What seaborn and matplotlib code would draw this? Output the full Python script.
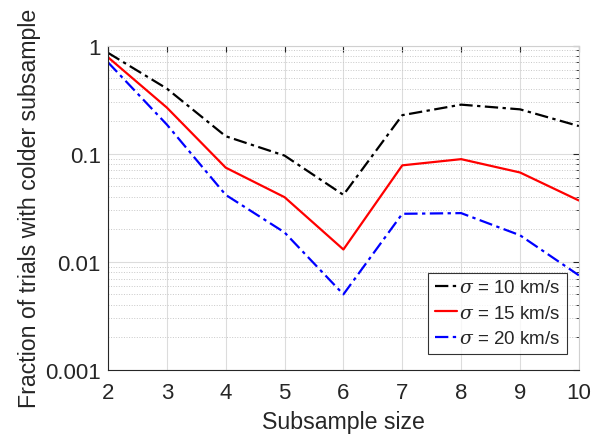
import numpy as np
import pandas as pd
import seaborn as sns
import matplotlib.pyplot as plt
from matplotlib.ticker import FixedLocator, FixedFormatter, LogLocator, NullFormatter

# Data
subsample_size = [2, 3, 4, 5, 6, 7, 8, 9, 10]
frac_sigma10 = [0.857, 0.40, 0.145, 0.096, 0.0416, 0.227, 0.284, 0.257, 0.18]
frac_sigma15 = [0.78, 0.267, 0.0743, 0.0396, 0.013, 0.078, 0.089, 0.067, 0.0369]
frac_sigma20 = [0.70, 0.186, 0.0416, 0.0187, 0.005, 0.0278, 0.0282, 0.0176, 0.0075]
labels = [r'$\sigma$ = 10 km/s', r'$\sigma$ = 15 km/s', r'$\sigma$ = 20 km/s']
colors = ['black', 'red', 'blue']
styles = [(0, (6, 2, 1.5, 2)), '-', (0, (6, 2, 1.5, 2))]

sns.set_style('white')
plt.rcParams['font.family'] = ['Liberation Sans', 'DejaVu Sans']
plt.rcParams['mathtext.fontset'] = 'dejavuserif'

fig = plt.figure(figsize=(6.03, 4.39), dpi=100)
ax = fig.add_axes([0.179, 0.155, 0.781, 0.739])

for vals, lab, c, ls in zip([frac_sigma10, frac_sigma15, frac_sigma20], labels, colors, styles):
    df = pd.DataFrame({'size': subsample_size, 'frac': vals})
    sns.lineplot(data=df, x='size', y='frac', ax=ax, color=c, linestyle=ls,
                 linewidth=1.6, label=lab)

ax.set_yscale('log')
ax.set_xlim(2, 10)
ax.set_ylim(0.001, 1)
ax.set_xticks(subsample_size)
ax.yaxis.set_major_locator(FixedLocator([0.001, 0.01, 0.1, 1]))
ax.yaxis.set_major_formatter(FixedFormatter(['0.001', '0.01', '0.1', '1']))
ax.yaxis.set_minor_locator(LogLocator(base=10, subs=np.arange(2, 10)))
ax.yaxis.set_minor_formatter(NullFormatter())

ax.grid(True, which='major', color='#dcdcdc', linewidth=0.8, linestyle='-')
ax.grid(True, which='minor', axis='y', color='#c8c8c8', linewidth=0.7, linestyle=':')

gray = '#262626'
for s in ax.spines.values():
    s.set_color(gray)
    s.set_linewidth(0.8)
for s in ['top', 'right']:
    ax.spines[s].set_color('#d0d0d0')
ax.tick_params(which='both', direction='in', top=True, right=True, colors=gray,
               labelsize=16, pad=5)
ax.tick_params(axis='x', pad=9)
ax.tick_params(which='major', length=4)
ax.tick_params(which='minor', length=2)

ax.set_xlabel('Subsample size', fontsize=16.7, color=gray, labelpad=5)
ax.set_ylabel('Fraction of trials with colder subsample', fontsize=16.7, color=gray, labelpad=3)

leg = ax.legend(loc='lower right', bbox_to_anchor=(0.975, 0.049), fontsize=13.5,
                frameon=True, fancybox=False, handlelength=1.2, handletextpad=0.12,
                borderpad=0.35, labelspacing=0.45, borderaxespad=0)
leg.get_frame().set_edgecolor('black')
leg.get_frame().set_linewidth(0.8)

fig.savefig('out.png', dpi=100)
